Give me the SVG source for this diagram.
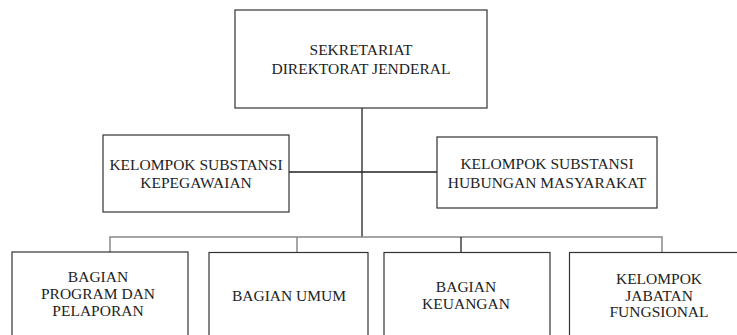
<svg xmlns="http://www.w3.org/2000/svg" width="737" height="335" viewBox="0 0 737 335">
<style>
.box{fill:#fff;stroke:#333;stroke-width:1.2}
.t{font-family:"Liberation Serif",serif;font-size:15.5px;fill:#222;text-anchor:middle}
.ln{stroke:#222;stroke-width:1.3;fill:none}
.bus{stroke:#888;stroke-width:1.5;fill:none}
</style>
<rect width="737" height="335" fill="#fff"/>
<g id="connectors">
<line class="ln" x1="362" y1="108" x2="362" y2="237"/>
<line class="ln" x1="289" y1="172" x2="437" y2="172"/>
<polyline class="bus" points="110,252 110,237 662,237 662,252"/>
<line class="bus" x1="297" y1="237" x2="297" y2="252"/>
<line class="ln" x1="461" y1="237" x2="461" y2="252"/>
</g>
<g id="sekretariat">
<rect class="box" x="235" y="10" width="252" height="98"/>
<text class="t" x="361" y="55">SEKRETARIAT</text>
<text class="t" x="361" y="74">DIREKTORAT JENDERAL</text>
</g>
<g id="kepegawaian">
<rect class="box" x="103" y="135" width="186" height="77"/>
<text class="t" x="196" y="170">KELOMPOK SUBSTANSI</text>
<text class="t" x="196" y="188">KEPEGAWAIAN</text>
</g>
<g id="humas">
<rect class="box" x="437" y="137" width="220" height="71"/>
<text class="t" x="547" y="169">KELOMPOK SUBSTANSI</text>
<text class="t" x="547" y="188">HUBUNGAN MASYARAKAT</text>
</g>
<g id="program">
<rect class="box" x="12" y="252" width="176" height="100"/>
<text class="t" x="98" y="282">BAGIAN</text>
<text class="t" x="98" y="299">PROGRAM DAN</text>
<text class="t" x="98" y="316">PELAPORAN</text>
</g>
<g id="umum">
<rect class="box" x="209" y="252.5" width="159" height="100"/>
<text class="t" x="289" y="301">BAGIAN UMUM</text>
</g>
<g id="keuangan">
<rect class="box" x="384" y="252.5" width="166" height="100"/>
<text class="t" x="466" y="292">BAGIAN</text>
<text class="t" x="466" y="309">KEUANGAN</text>
</g>
<g id="fungsional">
<rect class="box" x="569.5" y="252.5" width="180" height="100"/>
<text class="t" x="659" y="284">KELOMPOK</text>
<text class="t" x="659" y="301">JABATAN</text>
<text class="t" x="659" y="317">FUNGSIONAL</text>
</g>
</svg>
